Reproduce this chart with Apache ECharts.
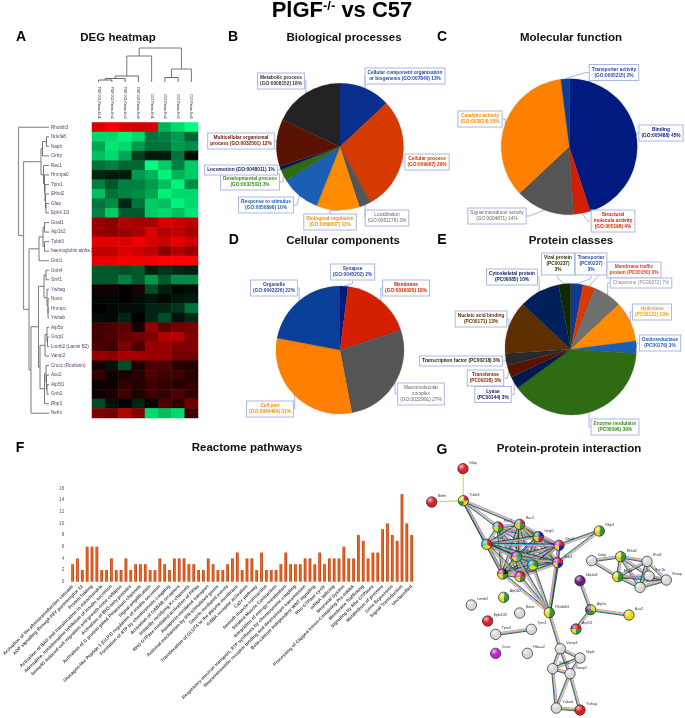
<!DOCTYPE html>
<html><head><meta charset="utf-8">
<style>html,body{margin:0;padding:0;background:#fff}#c{width:685px;height:718px}</style>
<script src="https://cdn.jsdelivr.net/npm/echarts@6/dist/echarts.min.js"></script>
</head><body><div id="c"></div>
<script>
// ---------- Panel A data ----------
const geneNames=['Rhobtb3','Ndufa8','Napb','Cirbp','Rac1','Hnrnpa0','Tpm1','Ehhd2','Gfap','Epb4.1l3','Gnaf1','Atp1b2','Tubb3','haemoglobin alpha 2','Gnb1','Gnb4','Snrf1','Ywhag','Nono','Hnrnpc','Ywhab','Atp5o','Gngt1','Lmnb2 (Lamin B2)','Vamp2','Crocc (Rootletin)','Aco2','Atp5f1','Gnb2','Rbp3','Nefm'];
const sampleNames=['PlGF-KO-Retina-Ext1','PlGF-KO-Retina-Ext2','PlGF-KO-Retina-Ext3','PlGF-KO-Retina-Ext4','C57-Retina-Ext1','C57-Retina-Ext2','C57-Retina-Ext3','C57-Retina-Ext4'];
const heatValues=[
[.85,.95,.85,.8,.85,-.7,-.85,-1],
[-.85,-.85,-.95,-.85,-.45,-.5,-.6,-.4],
[-.65,-.9,-.85,-.6,-.45,-.45,-.6,-.55],
[-.75,-.85,-.65,-.25,-.1,-.1,-.45,-.05],
[-.45,-.5,-.4,-.4,-1,-.8,-.5,-.8],
[-.15,-.1,-.1,-.6,-.7,-.95,-.7,-.8],
[-.5,-.35,-.5,-.5,-.6,-.75,-.95,-.55],
[-.75,-.45,-.5,-.55,-.65,-.95,-.85,-.85],
[-.45,-.55,-.15,-.45,-.8,-.75,-.95,-.85],
[-.5,-.8,-.35,-.35,-.8,-.85,-.75,-.9],
[.6,.55,.7,.65,.65,.85,.8,.75],
[.6,.55,.6,.65,.85,.7,.75,.65],
[.9,.9,.85,.95,.85,.8,.9,.8],
[.75,.75,.85,.8,.75,.55,.7,.6],
[.9,.9,.95,.95,.95,1,1,1],
[-.35,-.35,-.3,-.35,-.12,-.2,-.15,-.12],
[-.35,-.35,-.5,-.35,-.6,-.35,-.55,-.55],
[.07,.07,0,.1,-.3,-.12,-.03,-.05],
[-.03,-.03,0,-.05,-.08,-.03,-.08,-.1],
[0,-.03,-.05,-.05,-.15,-.15,-.2,-.45],
[-.05,-.03,-.15,0,-.15,-.3,-.08,-.17],
[.25,.3,.35,.08,.6,.35,.45,.5],
[.25,.3,.4,.45,.5,.7,.7,.5],
[.3,.25,.5,.3,.6,.6,.5,.5],
[.6,.55,.65,.65,.6,.6,.45,.45],
[.08,-.07,-.3,.12,.3,.3,.17,.12],
[.2,.06,.1,.15,.3,.25,.25,.15],
[.05,.05,.2,.15,.25,.2,.15,.2],
[.07,.1,.25,.12,.25,.2,.3,.2],
[-.3,-.07,0,-.15,.03,.3,.2,.45],
[.5,.45,.7,.5,-.85,-.75,-.85,.25]];
// dendrograms: [mergeHeight, child, child]; integers are leaves
const rowTree=[18.5,0,[23.5,
  [41,[42.5,[46.5,1,2],3],[43.5,4,[44.5,5,[45,6,[45.5,7,[46,8,9]]]]]],
  [29,[39,[43,[44.5,10,11],[44.5,12,13]],14],
      [31,[38.5,[44,[46,15,16],[47,17,[48,18,[48,19,20]]]],
              [40,[45,[47,21,[47.5,22,23]],24],[44.5,[46,25,[46.5,26,[47,27,28]]],29]]],30]]]];
const colTree=[34,[26,[6,[3.5,[2,0,1],2],3],4],[13,[4.5,5,6],7]];

// ---------- Pie data ----------
const bpValues=[13,29,3,11,10,3,1,12,18];
const bpTexts=['Cellular component organisation\nor biogenesis (GO:007840) 13%','Cellular process\n(GO:009987) 29%','Localization\n(GO:0051179) 3%','Biological regulation\n(GO:0069007) 11%','Response to stimulus\n(GO:0050896) 10%','Developmental process\n(GO:0032502) 3%','Locomotion (GO:0048011) 1%','Multicellular organismal\nprocess (GO:0032501) 12%','Metabolic process\n(GO:0008152) 18%'];
const mfValues=[45,4,14,35,2];
const mfTexts=['Binding\n(GO:005488) 45%','Structural\nmolecule activity\n(GO:005198) 4%','Signal transducer activity\n(GO:0004871) 14%','Catalytic activity\n(GO:003824) 35%','Transporter activity\n(GO:0005215) 2%'];
const ccValues=[2,18,27,31,22];
const ccTexts=['Synapse\n(GO:0045202) 2%','Membrane\n(GO:0016020) 18%','Macromolecular\ncomplex\n(GO:0032991) 27%','Cell part\n(GO:0044464) 31%','Organelle\n(GO:0043226) 22%'];
const pcValues=[3,3,7,10,3,39,3,3,3,13,10,3];
const pcTexts=['Transporter\n(PC00227)\n3%','Membrane traffic\nprotein (PC00150) 3%','Chaperone (PC00072) 7%','Hydrolase\n(PC00121) 10%','Oxidoreductase\n(PC00176) 3%','Enzyme modulator\n(PC00096) 39%','Lyase\n(PC00144) 3%','Transferase\n(PC00228) 3%','Transcription factor (PC00218) 3%','Nucleic acid binding\n(PC00171) 13%','Cytoskeletal protein\n(PC00085) 10%','Viral protein\n(PC00237)\n3%'];

// ---------- Panel F data ----------
const pathwayCounts=[3,4,2,6,6,6,2,2,4,2,2,4,2,3,3,3,2,2,4,3,2,4,4,4,3,3,2,2,4,3,2,2,3,4,5,2,4,4,2,5,2,2,2,3,5,3,3,3,4,4,3,5,3,4,4,4,6,4,4,8,7,4,5,5,9,10,8,7,15,10,8];
const pathwayLabels=['Activation of the phototransduction cascade','ADP signalling through P2Y purinoceptor 12','Protein folding','Activation of BAD and translocation to mitochondria','Adrenaline, noradrenaline inhibition of insulin secretion','Sema4D induced cell migration and growth-cone collapse','Activation of BH3-only proteins','Activation of G protein gated Potassium channels','Signal amplification','Glucagon-like Peptide 1 (GLP1) regulation of insulin secretion','Formation of ATP by chemiosmotic coupling','Activation of GABAB receptors','Inwardly rectifying K+ channels','RHO GTPase mediated activation of PKNs','Aquaporin-mediated transport','Antiviral mechanism by IFN-stimulated genes','Gastrin mediated events','Translocation of GLUT4 to the plasma membrane','GABA receptor activation','Ca2+ pathway','Smooth muscle contraction','Striated Muscle Contraction','Integration of energy metabolism','Respiratory electron transport, ATP synthesis by chemiosmotic coupling','Neurotransmitter receptor binding and downstream transmission','Beta-catenin independent WNT signaling','Rho GTPase cycle','mRNA splicing','Neuronal System','Processing of Capped Intron-Containing Pre-mRNA','Membrane Trafficking','Signaling by Rho GTPases','Metabolism of proteins','Gene Expression','Signal Transduction','Unclassified'];

// ---------- Panel G data ----------
const ppiNames=['Gfap','Tubb3','Nefm','Rac1','Rac2','Gngt1','Gnai2','Gnb1','Gnb2','Gnb4','Gng3','Gnaq','Gnao1','Rhobtb3','Rbp3','Cirbp','Ehhd2','Ehd1','Ehd3','Scn1b','Snca','Nsmp','Ndufa8','Atp5o','Aco2','Atp5f1','Atp1b2','Lmnb2','Nono','Epb41l3','Tpm3','Tpm1','Crocc','Hba-a2','Vamp3','Napb','Vamp1','Vamp2','Ywhab','Ywhag'];
const ppiX=[99,100,5,204,269,325,387,383,260,308,218,270,170,358,508,485,572,651,563,657,630,709,450,482,597,438,221,124,269,173,197,304,197,292,391,450,368,420,379,450];
const ppiY=[116,212,216,291,283,320,346,398,380,405,432,440,343,548,303,392,380,394,440,438,472,450,452,539,555,597,502,525,549,573,613,598,670,670,656,684,716,731,834,840];
const clusterNames=['Rac1','Rac2','Gngt1','Gnai2','Gnb1','Gnb2','Gnb4','Gng3','Gnaq','Gnao1'];
const otherLinks=[['Tubb3','Rac1'],['Tubb3','Rac2'],['Tubb3','Gnao1'],['Tubb3','Gng3'],['Rhobtb3','Gng3'],['Rhobtb3','Gnaq'],['Rhobtb3','Gnb2'],['Rhobtb3','Gnb4'],['Rhobtb3','Gnb1'],['Rhobtb3','Gnai2'],['Rhobtb3','Vamp3'],['Vamp3','Napb'],['Vamp3','Vamp1'],['Vamp3','Vamp2'],['Napb','Vamp1'],['Napb','Vamp2'],['Vamp1','Vamp2'],['Vamp1','Ywhab'],['Vamp2','Ywhab'],['Vamp2','Ywhag'],['Ywhab','Ywhag'],['Ndufa8','Atp5o'],['Atp5o','Aco2'],['Atp5o','Atp5f1'],['Tpm3','Tpm1'],['Rbp3','Gnai2'],['Rbp3','Gnb1'],['Cirbp','Ehhd2'],['Cirbp','Ehd3'],['Ehhd2','Ehd1'],['Ehhd2','Ehd3'],['Ehhd2','Scn1b'],['Ehhd2','Snca'],['Ehd3','Ehd1'],['Ehd3','Scn1b'],['Ehd3','Snca'],['Ehd3','Nsmp'],['Ehd1','Scn1b'],['Ehd1','Snca'],['Ehd1','Nsmp'],['Scn1b','Snca'],['Scn1b','Nsmp'],['Snca','Nsmp']];
const simpleLinks=[['Gfap','Tubb3'],['Nefm','Tubb3']];

// ---------- Styles and layout, kept apart from the values ----------
const bpColors=['#0a2f8f','#d63a00','#555555','#ff8c00','#1a5fb4','#2e6b12','#0a1a4f','#5a1200','#222222'];
const bpInk=['#2a4aa0','#d63a00','#666666','#ff8c00','#1a5fb4','#3a8a1a','#0a1a5f','#6a1500','#333333'];
const bpPos=[[405,76],[427,162],[387,218],[330,222],[266,205],[250,182],[241,170],[241,141],[281,81]];
const mfColors=['#001a80','#d42000','#555555','#ff8000','#0a3f99'];
const mfInk=['#001a80','#e02000','#666666','#ff8c00','#2a4aa0'];
const mfPos=[[661,133],[613,221],[497,216],[480,119],[614,72.5]];
const ccColors=['#001a80','#d42000','#555555','#ff8000','#0a3f99'];
const ccInk=['#2a4aa0','#e02000','#666666','#ff8c00','#2a4aa0'];
const ccPos=[[352.5,272],[406,288],[421,394],[270,409],[274,288]];
const pcColors=['#123a96','#d93a00','#707070','#ff8c00','#1a5fb4','#2e6b12','#001a50','#5a1200','#2a2a2a','#5e3000','#00205a','#0f2a00'];
const pcInk=['#2a4aa0','#e0401a','#888888','#ff9a10','#1a5fb4','#3a8a1a','#0a1a5f','#8a1a00','#222222','#5e3000','#0a1a5f','#2a3a00'];
const pcPos=[[591,264],[634,270],[641,283],[652,312],[660,343],[615,427],[493,394.5],[485.5,378],[461,361],[481,319],[512,277],[558,264]];
const Y='#e6d820',G='#2f9a2f',R='#d8202a',C='#22b5c8',M='#c81ec8',B='#1a1ac0',K='#222222',W='#d8d8d8',P='#6a1a7a';
const ppiFill={Gfap:[R],Tubb3:[R,Y,G,Y],Nefm:[R],Rac1:[R,G,Y,C],Rac2:[R,G,Y,C],Gngt1:[B,R,Y,G],Gnai2:[R,B,Y,M],Gnb1:[R,B,Y,M],Gnb2:[G,C,Y,M],Gnb4:[G,Y,C],Gng3:[K,G,Y,M],Gnaq:[R,G,Y,M],Gnao1:[R,Y,C],Rhobtb3:[G,Y],Rbp3:[G,Y],Cirbp:[W],Ehhd2:[G,Y],Ehd1:[W],Ehd3:[G,Y],Scn1b:[W],Snca:[W],Nsmp:[W],Ndufa8:[P],Atp5o:[Y,G,P],Aco2:[Y],Atp5f1:[R,G,Y,P],Atp1b2:[G,Y],Lmnb2:[W],Nono:[W],Epb41l3:[R],Tpm3:[W],Tpm1:[W],Crocc:[M],'Hba-a2':[W],Vamp3:[W],Napb:[W],Vamp1:[W],Vamp2:[W],Ywhab:[W],Ywhag:[R]};
const richEdge=['#d05ae0','#c8d23c','#36b4d8','#2a2a2a'];
const plainEdge=['#c8d860'];

const font='"Liberation Sans",Arial,sans-serif';

function flattenTree(node,leafH,segs){
  if(typeof node==='number')return {h:leafH,p:node+.5};
  const kids=node.slice(1).map(n=>flattenTree(n,leafH,segs));
  const h=node[0],ps=kids.map(k=>k.p);
  segs.push([h,Math.min(...ps),h,Math.max(...ps),h]);
  kids.forEach(k=>segs.push([h,k.p,k.h,k.p,h]));
  return {h,p:(Math.min(...ps)+Math.max(...ps))/2};
}
const rowSegs=[];flattenTree(rowTree,49,rowSegs);
const colSegsRaw=[];flattenTree(colTree,0,colSegsRaw);
const colSegs=colSegsRaw.map(s=>[s[1],s[0],s[3],s[2],s[4]]);

const heatData=[];heatValues.forEach((r,j)=>r.forEach((v,i)=>heatData.push([i,j,v])));

function makePie(values,texts,colors,ink,pos,center,radius){
  return {type:'pie',silent:true,center,radius,startAngle:90,clockwise:true,avoidLabelOverlap:false,animation:false,
    data:values.map((v,i)=>({value:v,name:texts[i].replace(/\n/g,' '),itemStyle:{color:colors[i]},
      label:{color:ink[i],fontWeight:ink[i]==='#666666'||ink[i]==='#888888'?'normal':'bold'}})),
    itemStyle:{shadowBlur:1.5,shadowColor:'rgba(0,0,0,.35)'},
    label:{show:true,position:'outside',fontFamily:font,fontSize:4.8,lineHeight:6,align:'center',
      backgroundColor:'#fff',borderColor:'#a9b8e0',borderWidth:1,padding:[1.5,2],
      formatter:p=>texts[p.dataIndex]},
    labelLine:{show:true,length:3,length2:3,lineStyle:{color:'#a9b8e0',width:1}},
    labelLayout:p=>({x:pos[p.dataIndex][0],y:pos[p.dataIndex][1],align:'center',verticalAlign:'middle',hideOverlap:false,moveOverlap:false})};
}

const ppiIndex={};ppiNames.forEach((n,i)=>ppiIndex[n]=i);
const linkRow=(a,b,k)=>[ppiX[ppiIndex[a]],ppiY[ppiIndex[a]],ppiX[ppiIndex[b]],ppiY[ppiIndex[b]],k];
const ppiLinks=[];
clusterNames.forEach((a,i)=>clusterNames.slice(i+1).forEach(b=>ppiLinks.push(linkRow(a,b,0))));
otherLinks.forEach(l=>ppiLinks.push(linkRow(l[0],l[1],0)));
simpleLinks.forEach(l=>ppiLinks.push(linkRow(l[0],l[1],1)));

const hidden=(o)=>Object.assign({show:false,type:'value',scale:false},o);
const titles=[
 ['DEG heatmap',118,38],['Biological processes',344,38],['Molecular function',571,38],
 ['Cellular components',343,241],['Protein classes',571,241],['Reactome pathways',247,448],['Protein-protein interaction',569,449]
].map(t=>({text:t[0],left:t[1],top:t[2],textAlign:'center',textVerticalAlign:'middle',padding:0,textStyle:{fontFamily:font,fontSize:11.5,fontWeight:'bold',color:'#111'}}));
const letters=[['A',21,37],['B',233,37],['C',442,37],['D',233.7,240],['E',442,240],['F',20,448],['G',442,450]]
 .map(t=>({text:t[0],left:t[1],top:t[2],textAlign:'center',textVerticalAlign:'middle',padding:0,textStyle:{fontFamily:font,fontSize:14,fontWeight:'bold',color:'#000'}}));
const mainTitle={text:'{m|PlGF}{s|-/-}{m| vs C57}',left:342,top:11,textAlign:'center',textVerticalAlign:'middle',padding:0,
  textStyle:{rich:{m:{fontFamily:font,fontSize:22,fontWeight:'bold',color:'#000'},s:{fontFamily:font,fontSize:13,fontWeight:'bold',color:'#000',verticalAlign:'top',padding:[0,0,8,0]}}}};

const chart=echarts.init(document.getElementById('c'),null,{renderer:'canvas'});
chart.setOption({
 animation:false,backgroundColor:'#fff',
 title:[mainTitle].concat(titles,letters),
 visualMap:{show:false,seriesIndex:0,min:-1,max:1,inRange:{color:['#00ff80','#000000','#ff0000']}},
 grid:[
  {left:92,top:122.5,width:106,height:295.5},
  {left:0,top:122.5,width:50,height:295.5},
  {left:92,top:42,width:106,height:40},
  {left:68.3,top:488.3,width:345.8,height:93.4},
  {left:430,top:430,width:255,height:288}
 ],
 xAxis:[
  {gridIndex:0,type:'category',position:'top',data:sampleNames,axisLine:{show:false},axisTick:{show:false},splitLine:{show:false},
   axisLabel:{rotate:90,interval:0,margin:4,fontFamily:font,fontSize:3.3,color:'#222',hideOverlap:false}},
  hidden({gridIndex:1,min:0,max:50}),
  hidden({gridIndex:2,min:0,max:8}),
  {gridIndex:3,type:'category',data:pathwayCounts.map((v,i)=>i%2===0?pathwayLabels[i/2]:''),axisLine:{show:false},axisTick:{show:false},
   axisLabel:{interval:1,rotate:45,margin:4,fontFamily:font,fontSize:4.6,fontWeight:'bold',color:'#444',hideOverlap:false}},
  hidden({gridIndex:4,min:0,max:765})
 ],
 yAxis:[
  {gridIndex:0,type:'category',inverse:true,data:geneNames,axisLine:{show:false},axisTick:{show:false},splitLine:{show:false},
   axisLabel:{interval:0,align:'left',margin:41,fontFamily:font,fontSize:4.6,color:'#5a3a6a',hideOverlap:false}},
  hidden({gridIndex:1,min:0,max:31,inverse:true}),
  hidden({gridIndex:2,min:0,max:40}),
  {gridIndex:3,type:'value',min:0,max:16,interval:2,axisLine:{show:false},axisTick:{show:false},splitLine:{show:false},
   axisLabel:{margin:6,fontFamily:font,fontSize:4.6,color:'#555'}},
  hidden({gridIndex:4,min:0,max:864,inverse:true})
 ],
 series:[
  {type:'heatmap',xAxisIndex:0,yAxisIndex:0,data:heatData,silent:true,progressive:0,itemStyle:{borderWidth:0}},
  {type:'custom',xAxisIndex:1,yAxisIndex:1,silent:true,clip:false,data:rowSegs,encode:{x:[0,2],y:[1,3]},
   renderItem:(p,api)=>{const a=api.coord([api.value(0),api.value(1)]),b=api.coord([api.value(2),api.value(3)]),g=api.value(4)<35;
     return {type:'line',shape:{x1:a[0],y1:a[1],x2:b[0],y2:b[1]},style:{stroke:g?'#8f8f8f':'#555',lineWidth:g?1.2:.8}};}},
  {type:'custom',xAxisIndex:2,yAxisIndex:2,silent:true,clip:false,data:colSegs,encode:{x:[0,2],y:[1,3]},
   renderItem:(p,api)=>{const a=api.coord([api.value(0),api.value(1)]),b=api.coord([api.value(2),api.value(3)]),g=api.value(4)>=10;
     return {type:'line',shape:{x1:a[0],y1:a[1],x2:b[0],y2:b[1]},style:{stroke:g?'#777':'#444',lineWidth:g?1:.8}};}},
  makePie(bpValues,bpTexts,bpColors,bpInk,bpPos,[340,146.7],63.5),
  makePie(mfValues,mfTexts,mfColors,mfInk,mfPos,[569.3,146.7],68),
  makePie(ccValues,ccTexts,ccColors,ccInk,ccPos,[340,350],64),
  makePie(pcValues,pcTexts,pcColors,pcInk,pcPos,[570.7,349.3],65.7),
  {type:'bar',xAxisIndex:3,yAxisIndex:3,data:pathwayCounts,barWidth:2.8,silent:true,
   itemStyle:{color:{type:'linear',x:0,y:0,x2:1,y2:0,colorStops:[{offset:0,color:'#b83a0a'},{offset:.5,color:'#f4691f'},{offset:1,color:'#b83a0a'}]}}},
  {type:'custom',xAxisIndex:4,yAxisIndex:4,silent:true,clip:false,data:ppiLinks,encode:{x:[0,2],y:[1,3]},
   renderItem:(p,api)=>{const a=api.coord([api.value(0),api.value(1)]),b=api.coord([api.value(2),api.value(3)]);
     const cols=api.value(4)===0?richEdge:plainEdge,dx=b[0]-a[0],dy=b[1]-a[1],L=Math.hypot(dx,dy)||1,nx=-dy/L,ny=dx/L;
     return {type:'group',children:cols.map((c,k)=>{const o=(k-(cols.length-1)/2)*.8;
       return {type:'line',shape:{x1:a[0]+nx*o,y1:a[1]+ny*o,x2:b[0]+nx*o,y2:b[1]+ny*o},style:{stroke:c,lineWidth:cols.length>1?.8:1.1}};})};}},
  {type:'custom',xAxisIndex:4,yAxisIndex:4,silent:true,clip:false,z:5,data:ppiNames.map((n,i)=>[ppiX[i],ppiY[i],i]),encode:{x:0,y:1},
   renderItem:(p,api)=>{const c=api.coord([api.value(0),api.value(1)]),name=ppiNames[api.value(2)],cols=ppiFill[name],r=5.2,kids=[];
     cols.forEach((col,k)=>kids.push({type:'sector',shape:{cx:c[0],cy:c[1],r:r,r0:0,startAngle:-Math.PI/2+k*2*Math.PI/cols.length,endAngle:-Math.PI/2+(k+1)*2*Math.PI/cols.length,clockwise:true},style:{fill:col}}));
     kids.push({type:'circle',shape:{cx:c[0],cy:c[1],r:r},style:{stroke:'#222',lineWidth:.7,fill:new echarts.graphic.RadialGradient(.35,.3,.8,[{offset:0,color:'rgba(255,255,255,.7)'},{offset:.45,color:'rgba(255,255,255,0)'},{offset:.85,color:'rgba(0,0,0,0)'},{offset:1,color:'rgba(0,0,0,.5)'}])}});
     kids.push({type:'text',style:{x:c[0]+6,y:c[1]-8,text:name,fontSize:3.6,fontFamily:font,fill:'#333'}});
     return {type:'group',children:kids};}}
 ]
});
</script></body></html>
